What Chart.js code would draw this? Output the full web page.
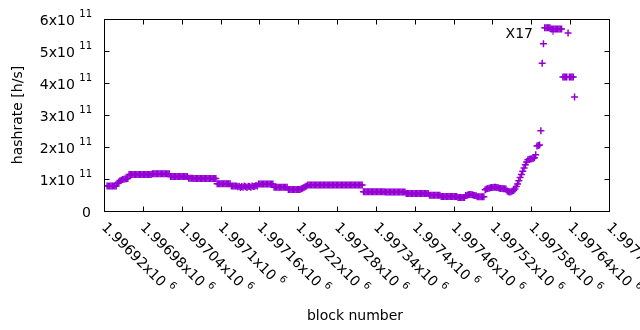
<!DOCTYPE html>
<html>
<head>
<meta charset="utf-8">
<script src="https://cdn.jsdelivr.net/npm/chart.js@4.4.1/dist/chart.umd.min.js"></script>
<style>
  body { margin: 0; background: #fff; }
  canvas { display: block; }
</style>
</head>
<body>
<canvas id="Chart" width="640" height="330"></canvas>
<script>
  // hashrate, one value every 2nd block, in units of 1e9 h/s
  const firstBlock = 1996924;
  const blockStep = 2;
  const hashrateG = [
    80, 80, 80, 80, 80, 80, 80, 80, 88, 92, 96, 98, 100, 101, 102, 102, 103,
    116, 116, 116, 116, 116, 116, 116, 116, 116, 116, 116, 116, 116, 116, 116, 116, 116, 116,
    118, 118, 118, 118, 118, 118, 118, 118, 118, 118, 118, 118, 118, 118,
    109, 109, 109, 109, 109, 109, 109, 109, 109, 109, 109, 109, 109, 109,
    104, 104, 104, 104, 103, 103, 103, 103, 103, 103, 103, 103, 103, 103, 103, 103, 103, 103, 103, 103, 103, 103,
    87, 87, 87, 87, 87, 87, 87, 87, 87, 87, 87,
    80, 80, 80, 80, 80,
    77, 79, 75, 78, 76, 80, 77, 75, 79, 78, 76, 80, 78, 79, 81, 80,
    86, 86, 86, 86, 86, 86, 86, 86, 86, 86, 86, 86,
    76, 76, 76, 76, 76, 76, 76, 76, 76, 76, 76,
    69, 69, 69, 69, 69, 69, 69, 69, 69, 69,
    71, 73, 75, 77, 80,
    83, 83, 83, 83, 83, 83, 83, 83, 83, 83, 83, 83, 83, 83, 83, 83, 83, 83, 83, 83, 83, 83,
    83, 83, 83, 83, 83, 83, 83, 83, 83, 83, 83, 83, 83, 83, 83, 83, 83, 83, 83, 83, 83,
    62, 62, 62, 62, 62, 62, 62, 62, 62, 62, 62, 62, 62, 62, 62, 62, 62,
    61, 61, 61, 61, 61, 61, 61, 61, 61, 61, 61, 61, 61, 61, 61, 61,
    56, 56, 56, 56, 56, 56, 56, 56, 56, 56, 56, 56, 56, 56, 56, 56, 56, 56,
    51, 51, 51, 51, 51, 51, 51, 51, 51,
    47, 47, 47, 47, 47, 47, 47, 47, 47, 47, 47, 47, 47,
    44, 44, 44, 44, 44, 44,
    50, 51, 52, 53, 53, 52, 51, 50, 49,
    46, 46, 46, 46, 46, 46,
    68, 70, 72, 73, 74, 75, 75, 76, 76, 75, 74, 73, 72, 72, 71, 71, 70,
    64, 62, 61, 62, 64,
    66, 70, 78, 86, 96, 106, 116, 126, 136, 146, 155,
    162, 163, 164, 165, 166, 168, 177, 205, 206, 208, 252, 463, 524,
    574, 574, 574, 574, 574, 570, 570, 570, 570, 570, 570, 570, 570, 570,
    420, 420, 420, 420, 558, 420, 420, 420, 420, 358
  ];

  const xTicks = [1996920, 1996980, 1997040, 1997100, 1997160, 1997220, 1997280,
                  1997340, 1997400, 1997460, 1997520, 1997580, 1997640, 1997700];
  const xTickMantissa = ["1.99692", "1.99698", "1.99704", "1.9971", "1.99716", "1.99722", "1.99728",
                         "1.99734", "1.9974", "1.99746", "1.99752", "1.99758", "1.99764", "1.9977"];
  const yTicks = [0, 1e11, 2e11, 3e11, 4e11, 5e11, 6e11];
  const yTickMantissa = ["0", "1", "2", "3", "4", "5", "6"];

  const purple = "#9400d3";
  const mainFont = "14px 'DejaVu Sans'";
  const supFont = "10px 'DejaVu Sans'";
  const tickLen = 5;

  const points = hashrateG.map((v, i) => ({ x: firstBlock + i * blockStep, y: v * 1e9 }));

  // gnuplot style frame: border, inward ticks, labels with superscripts, key
  const gnuplotFrame = {
    id: "gnuplotFrame",
    afterDraw(chart) {
      const { ctx, chartArea: a } = chart;
      const xs = chart.scales.x;
      const ys = chart.scales.y;
      ctx.save();
      ctx.strokeStyle = "#000";
      ctx.fillStyle = "#000";
      ctx.lineWidth = 1;
      ctx.strokeRect(a.left, a.top, a.right - a.left, a.bottom - a.top);

      ctx.beginPath();
      yTicks.forEach(v => {
        const py = Math.floor(ys.getPixelForValue(v)) + 0.5;
        ctx.moveTo(a.left, py); ctx.lineTo(a.left + tickLen, py);
        ctx.moveTo(a.right, py); ctx.lineTo(a.right - tickLen, py);
      });
      xTicks.forEach(v => {
        const px = Math.floor(xs.getPixelForValue(v)) + 0.5;
        ctx.moveTo(px, a.bottom); ctx.lineTo(px, a.bottom - tickLen);
        ctx.moveTo(px, a.top); ctx.lineTo(px, a.top + tickLen);
      });
      ctx.stroke();

      // y tick labels
      ctx.textBaseline = "alphabetic";
      ctx.textAlign = "right";
      yTicks.forEach((v, k) => {
        const py = ys.getPixelForValue(v);
        const m = yTickMantissa[k];
        if (m === "0") {
          ctx.font = mainFont;
          ctx.fillText("0", 91, py + 5);
          return;
        }
        ctx.font = supFont;
        const sw = ctx.measureText("11").width;
        ctx.fillText("11", 92, py - 2.5);
        ctx.font = mainFont;
        ctx.fillText(m + "x10 ", 92 - sw, py + 5);
      });

      // x tick labels, rotated
      ctx.textAlign = "left";
      xTicks.forEach((v, k) => {
        const px = xs.getPixelForValue(v);
        ctx.save();
        ctx.translate(px - 3.5, 228);
        ctx.rotate(Math.PI / 4);
        ctx.font = mainFont;
        const s = xTickMantissa[k] + "x10 ";
        ctx.fillText(s, 0, 0);
        const w = ctx.measureText(s).width;
        ctx.font = supFont;
        ctx.fillText("6", w, -7);
        ctx.restore();
      });

      // axis titles
      ctx.font = mainFont;
      ctx.textAlign = "center";
      ctx.fillText("block number", 355, 320);
      ctx.save();
      ctx.translate(18, 115);
      ctx.rotate(-Math.PI / 2);
      ctx.textBaseline = "middle";
      ctx.fillText("hashrate [h/s]", 0, 0);
      ctx.restore();

      // key
      ctx.textAlign = "right";
      ctx.fillText(chart.data.datasets[0].label, 533, 37.5);
      ctx.strokeStyle = purple;
      ctx.beginPath();
      ctx.moveTo(553, 28); ctx.lineTo(553, 35);
      ctx.moveTo(549.5, 31.5); ctx.lineTo(556.5, 31.5);
      ctx.stroke();
      ctx.restore();
    }
  };

  const ctx = document.getElementById("Chart").getContext("2d");
  const hashChart = new Chart(ctx, {
    type: "scatter",
    data: {
      datasets: [
        {
          label: "X17",
          data: points,
          pointStyle: "cross",
          pointRadius: 3.5,
          pointHoverRadius: 3.5,
          pointBorderWidth: 1.5,
          pointBorderColor: purple,
          pointBackgroundColor: purple,
          borderColor: purple,
          showLine: false,
        },
      ],
    },
    options: {
      responsive: false,
      animation: false,
      events: [],
      layout: { padding: { left: 104.5, right: 30.5, top: 19.5, bottom: 118.5 } },
      plugins: {
        legend: { display: false },
        tooltip: { enabled: false },
      },
      scales: {
        x: { type: "linear", display: false, min: 1996920, max: 1997700 },
        y: { type: "linear", display: false, min: 0, max: 6e11 },
      },
    },
    plugins: [gnuplotFrame],
  });
</script>
</body>
</html>
